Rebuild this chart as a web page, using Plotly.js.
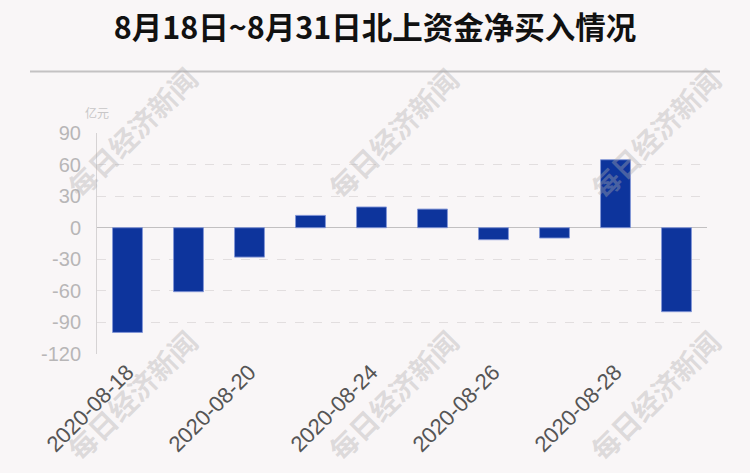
<!DOCTYPE html>
<html>
<head>
<meta charset="utf-8">
<script src="https://cdn.plot.ly/plotly-3.0.1.min.js"></script>
<style>
html,body{margin:0;padding:0;background:#f9f6f7;}
#chart{width:750px;height:473px;}
</style>
</head>
<body>
<div id="chart"></div>
<script>
const dates = ["2020-08-18","2020-08-19","2020-08-20","2020-08-21","2020-08-24","2020-08-25","2020-08-26","2020-08-27","2020-08-28","2020-08-31"];
const netBuy = [-99.5, -60.8, -27.9, 11.7, 19.7, 17.7, -11.4, -9.8, 64.6, -79.8];
const tickDates = ["2020-08-18","2020-08-20","2020-08-24","2020-08-26","2020-08-28"];
const yTicks = [90, 60, 30, 0, -30, -60, -90, -120];
const titleText = "8月18日~8月31日北上资金净买入情况";
const unitText = "亿元";
const watermark = "每日经济新闻";

const wmPos = [[0.057,1.005],[0.485,1.0],[0.915,1.0],[0.057,-0.186],[0.485,-0.186],[0.915,-0.186]];
const annotations = wmPos.map(p => ({
  xref:'paper', yref:'paper', x:p[0], y:p[1], xanchor:'center', yanchor:'middle',
  text:watermark, showarrow:false, textangle:-45,
  font:{family:'"Noto Sans CJK SC", sans-serif', size:28, color:'rgba(175,172,173,0.38)', weight:'bold'}
}));
annotations.push({xref:'paper', yref:'paper', x:0.0, y:1.095, xanchor:'center', yanchor:'middle',
  text:unitText, showarrow:false, font:{family:'"Noto Sans CJK SC", sans-serif', size:12, color:'#c8c6c7'}});

const trace = {
  type:'bar', x:dates, y:netBuy,
  marker:{color:'#0d349c', line:{color:'rgba(130,150,215,0.9)', width:1}},
  width:0.49, hoverinfo:'x+y'
};

const layout = {
  width:750, height:473,
  paper_bgcolor:'#f9f6f7', plot_bgcolor:'#f9f6f7',
  margin:{l:97, r:43, t:133, b:119},
  title:{text:titleText, x:0.5, xanchor:'center', y:0.94, yanchor:'middle',
    font:{family:'"Noto Sans CJK SC", sans-serif', size:30.5, color:'#111', weight:'bold'}},
  xaxis:{type:'category', tickmode:'array', tickvals:tickDates, ticktext:tickDates,
    tickangle:-45, showgrid:false, zeroline:false, showline:false, ticks:'',
    tickfont:{family:'"Liberation Sans", Arial, sans-serif', size:22, color:'#555'}},
  yaxis:{range:[-120,90], tickmode:'array', tickvals:yTicks, ticktext:yTicks.map(String),
    showgrid:true, gridcolor:'#e2dedf', griddash:'dash', gridwidth:1,
    zeroline:true, zerolinecolor:'#c2c0c1', zerolinewidth:1.5,
    showline:true, linecolor:'#d6d3d4', linewidth:1, ticks:'', ticklabelstandoff:11,
    tickfont:{family:'"Liberation Sans", Arial, sans-serif', size:20, color:'#b8b6b7'}},
  shapes:[{type:'line', xref:'paper', yref:'paper', x0:(30-97)/610, x1:(720-97)/610,
    y0:(354-71.5)/221, y1:(354-71.5)/221, line:{color:'#c4c2c3', width:2}}],
  annotations:annotations,
  showlegend:false
};

Plotly.newPlot('chart',[trace],layout,{displayModeBar:false, staticPlot:true});
</script>
</body>
</html>
